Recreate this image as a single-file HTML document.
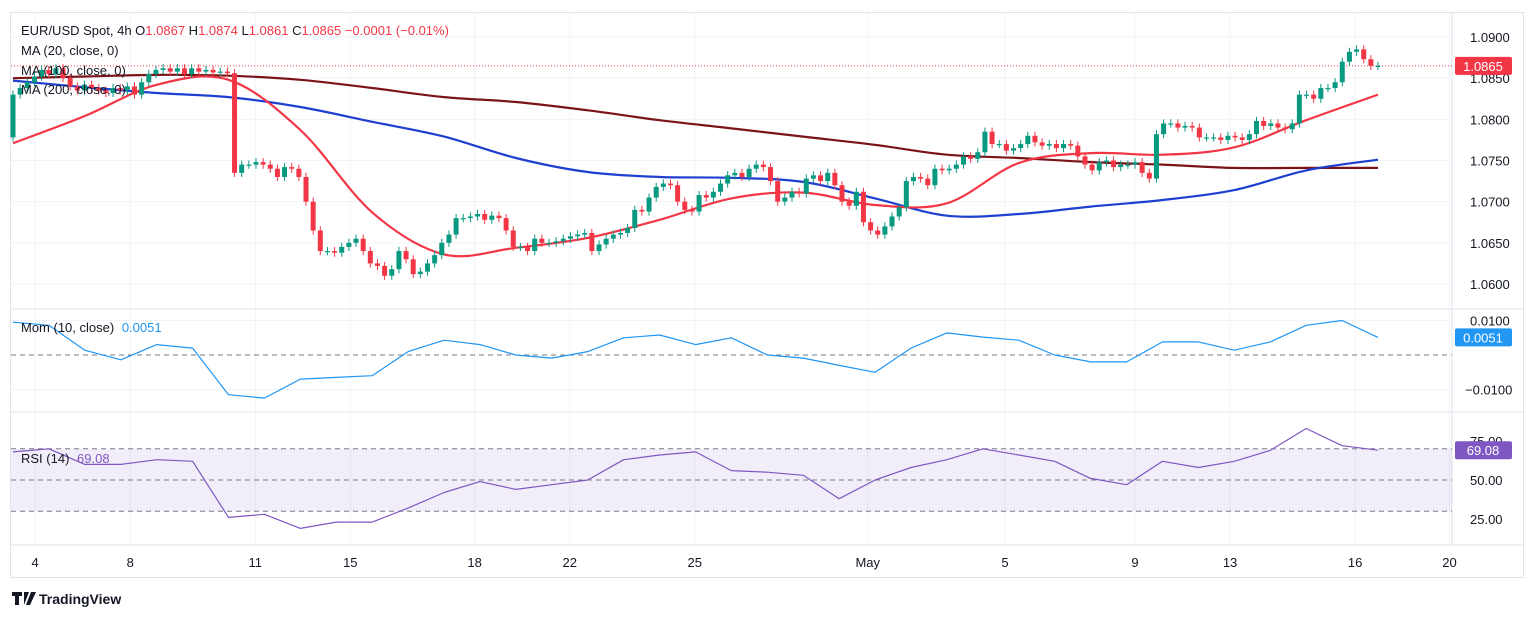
<!DOCTYPE html>
<html><head><meta charset="utf-8">
<style>
html,body{margin:0;padding:0;background:#fff;width:1536px;height:618px;overflow:hidden;font-family:"Liberation Sans",sans-serif;}
svg text{font-family:"Liberation Sans",sans-serif;}
</style></head>
<body>
<svg id="chart" width="1536" height="618" xmlns="http://www.w3.org/2000/svg">
<rect x="10.5" y="12.5" width="1513" height="565" fill="#fff" stroke="#e0e3eb"/>
<g id="grid"></g>
<g id="panes"></g>
<g id="axes"></g>
<text x="21" y="35" font-size="13" fill="#131722">EUR/USD Spot, 4h <tspan fill="#131722">O</tspan><tspan fill="#f23645">1.0867</tspan> <tspan fill="#131722">H</tspan><tspan fill="#f23645">1.0874</tspan> <tspan fill="#131722">L</tspan><tspan fill="#f23645">1.0861</tspan> <tspan fill="#131722">C</tspan><tspan fill="#f23645">1.0865 −0.0001 (−0.01%)</tspan></text>
<text x="21" y="55" font-size="13" fill="#131722">MA (20, close, 0)</text>
<text x="21" y="75" font-size="13" fill="#131722">MA (100, close, 0)</text>
<text x="21" y="94" font-size="13" fill="#131722">MA (200, close, 0)</text>
<text x="21" y="332" font-size="13" fill="#131722">Mom (10, close) <tspan fill="#2196f3" dx="4">0.0051</tspan></text>
<text x="21" y="463" font-size="13" fill="#131722">RSI (14) <tspan fill="#7e57c2" dx="4">69.08</tspan></text>
<g>
<path d="M12 592h10v4h-3v9h-4v-9h-3z M24 592 l5 0 -5 13z M31 592h5l-6 13h-4z" fill="#131722"/>
<text x="39" y="604" font-size="14" font-weight="bold" fill="#131722">TradingView</text>
</g>
</svg>
<script>
const closes=[1.0830,1.0838,1.0845,1.0852,1.0860,1.0855,1.0862,1.0850,1.0840,1.0835,1.0842,1.0838,1.0835,1.0832,1.0838,1.0835,1.0840,1.0830,1.0845,1.0855,1.0860,1.0862,1.0858,1.0862,1.0855,1.0862,1.0858,1.0860,1.0857,1.0858,1.0856,1.0735,
1.0745,1.0745,1.0748,1.0745,1.0740,1.0730,1.0742,1.0740,1.0730,1.0700,1.0665,1.0640,1.0640,1.0638,1.0645,1.0650,1.0655,1.0640,1.0625,1.0622,1.0610,1.0618,1.0640,1.0630,1.0612,1.0615,1.0625,1.0635,1.0650,1.0660,1.0680,1.0680,1.0682,1.0685,
1.0678,1.0683,1.0680,1.0665,1.0645,1.0645,1.0640,1.0655,1.0650,1.0650,1.0652,1.0655,1.0658,1.0660,1.0662,1.0640,1.0648,1.0655,1.0660,1.0662,1.0668,1.0690,1.0688,1.0705,1.0718,1.0722,1.0720,1.0700,1.0690,1.0688,1.0708,1.0705,1.0712,1.0722,1.0732,1.0735,1.0730,1.0740,1.0745,1.0742,1.0725,1.0700,1.0705,1.0712,1.0710,1.0728,1.0732,1.0725,1.0735,1.0720,1.0700,1.0695,1.0712,
1.0675,1.0665,1.0660,1.0670,1.0682,1.0693,1.0725,1.0730,1.0728,1.0720,1.0740,1.0738,1.0740,1.0745,1.0755,1.0752,1.0760,1.0785,1.0770,1.0770,1.0762,1.0765,1.0770,1.0780,1.0772,1.0768,1.0770,1.0765,1.0770,1.0768,1.0755,1.0745,1.0738,1.0748,1.0750,1.0742,1.0745,1.0745,1.0748,1.0735,1.0728,1.0782,1.0795,1.0795,1.0790,1.0792,1.0790,1.0778,1.0778,1.0778,1.0775,1.0780,1.0778,1.0775,1.0782,1.0798,1.0792,1.0795,1.0790,1.0788,1.0795,1.0830,1.0830,1.0825,1.0838,1.0838,1.0845,1.0870,1.0882,1.0885,1.0873,1.0865,1.0865];
const firstOpen=1.0778;
const ma20=[1.0771,1.0804,1.0842,1.0848,1.0787,1.0687,1.0636,1.0644,1.0656,1.0678,1.0704,1.0711,1.0696,1.0698,1.0747,1.0759,1.0757,1.0766,1.0799,1.0830];
const ma100=[1.0847,1.0839,1.0832,1.0827,1.0815,1.0797,1.0779,1.0753,1.0736,1.0730,1.0729,1.0724,1.0704,1.0683,1.0685,1.0694,1.0702,1.0714,1.0738,1.0751];
const ma200=[1.0850,1.0852,1.0854,1.0853,1.0848,1.0838,1.0827,1.0821,1.0811,1.0799,1.0789,1.0779,1.0769,1.0757,1.0753,1.0748,1.0745,1.0741,1.0741,1.0741];
const mom=[0.0095,0.0086,0.0014,-0.0014,0.0030,0.0020,-0.0115,-0.0125,-0.0070,-0.0065,-0.0060,0.0010,0.0043,0.0030,0,-0.0009,0.0010,0.0050,0.0058,0.0030,0.0050,0,-0.0009,-0.0030,-0.0050,0.0020,0.0064,0.0052,0.0043,0,-0.0020,-0.0020,0.0038,0.0038,0.0014,0.0038,0.0086,0.0100,0.0051];
const rsi=[68,70,60,60,63,62,26,28,19,23,23,32,42,49,44,47,50,63,66,68,56,55,53,38,50,58,63,70,66,62,51,47,62,58,62,69,83,72,69.08];
const priceTicks=[1.0900,1.0850,1.0800,1.0750,1.0700,1.0650,1.0600];
const momTicks=[0.0100,-0.0100];
const rsiTicks=[75,50,25];
const dateLabels=["4","8","11","15","18","22","25","May","5","9","13","16","20"];
const dateBars=[3.1,16.4,33.9,47.2,64.6,77.9,95.4,119.6,138.8,157,170.3,187.8,201];

const NS="http://www.w3.org/2000/svg";
const X0=13,X1=1378,PL=11,PR=1452;
const N=closes.length;
const bx=i=>X0+i*(X1-X0)/(N-1);
const sx=(i,len)=>X0+i*(X1-X0)/(len-1);
const py=p=>37+(1.09-p)*8233;
const my=v=>355-v*3450;
const ry=v=>480-(v-50)*1.56;
function el(tag,attrs,parent){const e=document.createElementNS(NS,tag);for(const k in attrs)e.setAttribute(k,attrs[k]);parent.appendChild(e);return e;}
const grid=document.getElementById('grid'),panes=document.getElementById('panes'),axes=document.getElementById('axes');

dateBars.forEach((b,i)=>{
  const x=bx(b);
  if(x<PR){const l=el('line',{x1:x,x2:x,y1:13,y2:545,stroke:'#f0f3fa'},grid);
  
  }
  const t=el('text',{x:x,y:567,'font-size':13,fill:'#131722','text-anchor':'middle'},axes);
  t.textContent=dateLabels[i];
  
  
});
priceTicks.forEach(p=>{
  const l=el('line',{x1:PL,x2:PR,y1:py(p),y2:py(p),stroke:'#f0f3fa'},grid);
  
  
  const t=el('text',{x:1470,y:py(p)+5,'font-size':13,fill:'#131722'},axes);
  t.textContent=p.toFixed(4);
  
  
});
momTicks.forEach(v=>{
  const l=el('line',{x1:PL,x2:PR,y1:my(v),y2:my(v),stroke:'#f0f3fa'},grid);
  
  
  const t=el('text',{x:v<0?1465:1470,y:my(v)+5,'font-size':13,fill:'#131722'},axes);
  t.textContent=v<0?'−0.0100':v.toFixed(4);
  
  
});
rsiTicks.forEach(v=>{
  const t=el('text',{x:1470,y:ry(v)+5,'font-size':13,fill:'#131722'},axes);
  t.textContent=v.toFixed(2);
  
  
});
[[PR,13,PR,545],[PL,309,1523,309],[PL,412,1523,412],[PL,545,1523,545]].forEach(a=>{
  const l=el('line',{x1:a[0],y1:a[1],x2:a[2],y2:a[3],stroke:'#e0e3eb'},grid);
  
  
});
const band=el('rect',{x:PL,y:ry(70),width:PR-PL,height:ry(30)-ry(70),fill:'rgba(126,87,194,0.1)'},panes);


[70,50,30].forEach(v=>{
  const l=el('line',{x1:PL,x2:PR,y1:ry(v),y2:ry(v),stroke:'#787b86','stroke-dasharray':'5,4'},panes);
  
  
});
const z=el('line',{x1:PL,x2:PR,y1:my(0),y2:my(0),stroke:'#787b86','stroke-dasharray':'5,4'},panes);


const lp=el('line',{x1:PL,x2:PR,y1:py(closes[N-1]),y2:py(closes[N-1]),stroke:'#f23645','stroke-dasharray':'1,2'},panes);



function poly(arr,fy,color,w,name){
  const pts=arr.map((v,i)=>sx(i,arr.length).toFixed(1)+','+fy(v).toFixed(1)).join(' ');
  const p=el('polyline',{points:pts,fill:'none',stroke:color,'stroke-width':w,'stroke-linejoin':'round'},panes);
  
  
}
function smooth(arr,fy,color,w,name){
  const P=arr.map((v,i)=>[sx(i,arr.length),fy(v)]);
  let d='M'+P[0][0]+','+P[0][1];
  for(let i=0;i<P.length-1;i++){
    const p0=P[i-1]||P[i],p1=P[i],p2=P[i+1],p3=P[i+2]||p2;
    const c1=[p1[0]+(p2[0]-p0[0])/6,p1[1]+(p2[1]-p0[1])/6];
    const c2=[p2[0]-(p3[0]-p1[0])/6,p2[1]-(p3[1]-p1[1])/6];
    d+=' C'+c1[0].toFixed(1)+','+c1[1].toFixed(1)+' '+c2[0].toFixed(1)+','+c2[1].toFixed(1)+' '+p2[0].toFixed(1)+','+p2[1].toFixed(1);
  }
  const p=el('path',{d:d,fill:'none',stroke:color,'stroke-width':w},panes);
  
  
}
smooth(ma200,py,'#7b1419',2.2,'ma200-line');
smooth(ma100,py,'#1e3fd0',2.2,'ma100-line');
smooth(ma20,py,'#f23645',2.2,'ma20-line');
for(let i=0;i<N;i++){
  const o=i?closes[i-1]:firstOpen,c=closes[i];
  const col=c>=o?'#089981':'#f23645';
  const x=bx(i);
  const g=el('g',{},panes);
  
  
  const hi=Math.max(o,c)+0.0005,lo=Math.min(o,c)-0.0005;
  el('line',{x1:x,x2:x,y1:py(hi),y2:py(lo),stroke:col,'stroke-width':1},g);
  const top=py(Math.max(o,c)),h=Math.max(1.2,py(Math.min(o,c))-top);
  el('rect',{x:x-2.5,y:top,width:5,height:h,fill:col},g);
}
poly(mom,my,'#2196f3',1.2,'mom-line');
poly(rsi,ry,'#7e57c2',1.2,'rsi-line');
function box(yc,color,txt,name){
  const g=el('g',{},axes);
  
  
  el('rect',{x:1455,y:yc-9,width:57,height:18,rx:2,fill:color},g);
  const t=el('text',{x:1483,y:yc+5,'font-size':13,fill:'#fff','text-anchor':'middle'},g);
  t.textContent=txt;
}
box(py(closes[N-1]),'#f23645',closes[N-1].toFixed(4),'last-price-label');
box(my(mom[mom.length-1]),'#2196f3',mom[mom.length-1].toFixed(4),'mom-value-label');
box(ry(rsi[rsi.length-1]),'#7e57c2',rsi[rsi.length-1].toFixed(2),'rsi-value-label');
</script>
</body></html>
